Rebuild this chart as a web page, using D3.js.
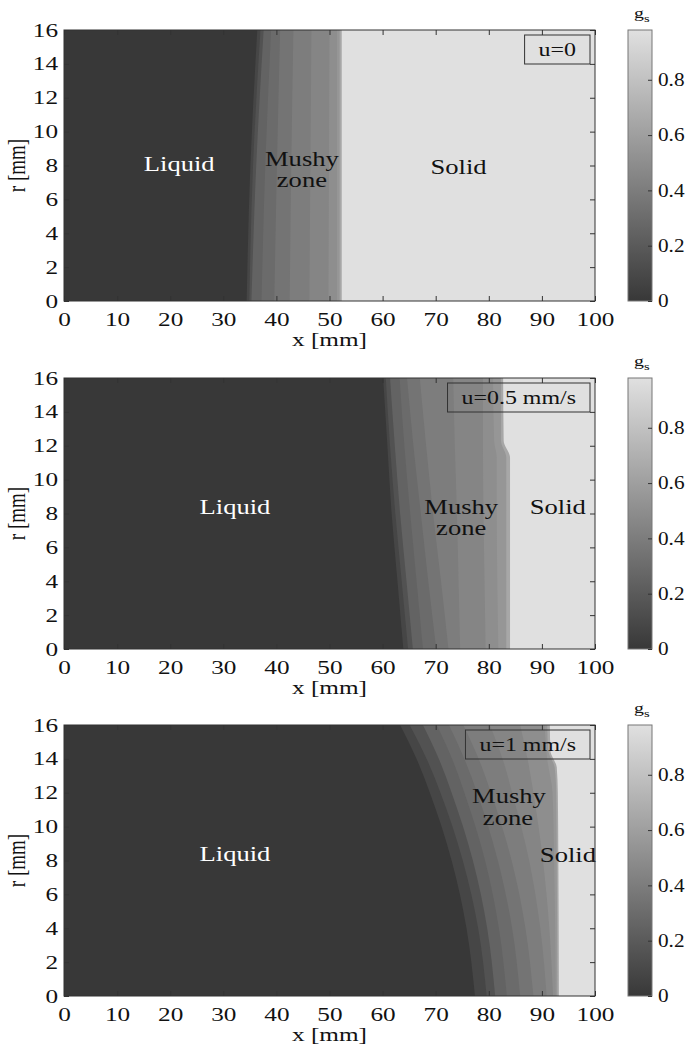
<!DOCTYPE html>
<html>
<head>
<meta charset="utf-8">
<script src="https://cdn.jsdelivr.net/npm/d3@7"></script>
<style>
  body { margin: 0; background: #fff; }
  svg text { font-family: "Liberation Serif", "Times New Roman", serif; fill: #111; }
</style>
</head>
<body>
<svg id="chart" width="688" height="1050"></svg>
<script>
// solid fraction levels; each edge list gives where the field reaches that level, as [r, x] in mm
const gsLevels = [0.08, 0.15, 0.25, 0.3, 0.35, 0.4, 0.45, 0.5, 0.55, 0.65, 0.98];
const xTicks = [0, 10, 20, 30, 40, 50, 60, 70, 80, 90, 100];
const rTicks = [0, 2, 4, 6, 8, 10, 12, 14, 16];
const cbTicks = [0, 0.2, 0.4, 0.6, 0.8];
const speeds = ["u=0", "u=0.5 mm/s", "u=1 mm/s"];

const edgesU0 = [
  [[0, 34.4], [8, 35.1], [16, 36.4]],
  [[0, 34.9], [8, 35.6], [16, 37.0]],
  [[0, 35.3], [8, 36.2], [16, 37.6]],
  [[0, 37.2], [8, 37.9], [16, 39.0]],
  [[0, 39.6], [8, 40.1], [16, 40.7]],
  [[0, 42.5], [8, 42.8], [16, 43.2]],
  [[0, 46.2], [8, 46.4], [16, 46.6]],
  [[0, 49.8], [8, 49.9], [16, 50.0]],
  [[0, 51.4], [16, 51.4]],
  [[0, 51.9], [16, 51.9]],
  [[0, 52.3], [16, 52.3]]
];

const edgesU05 = [
  [[0, 63.9], [4, 62.8], [8, 61.7], [12, 60.9], [16, 60.1]],
  [[0, 64.8], [4, 63.6], [8, 62.4], [12, 61.4], [16, 60.6]],
  [[0, 65.7], [4, 64.5], [8, 63.3], [12, 62.3], [16, 61.4]],
  [[0, 67.6], [4, 66.4], [8, 65.2], [12, 64.1], [16, 63.2]],
  [[0, 70.1], [4, 68.6], [8, 67.2], [12, 65.8], [16, 64.6]],
  [[0, 72.4], [4, 71.0], [8, 69.5], [12, 68.2], [16, 67.0]],
  [[0, 74.6], [4, 74.3], [8, 74.0], [12, 73.6], [16, 73.3]],
  [[0, 79.4], [4, 79.2], [8, 79.0], [12, 78.9], [16, 78.9]],
  [[0, 81.8], [4, 81.6], [8, 81.5], [11.3, 81.5], [12.3, 81.0], [16, 80.8]],
  [[0, 83.3], [8, 83.3], [11.3, 83.3], [12.3, 82.3], [16, 82.3]],
  [[0, 84.0], [8, 84.0], [11.3, 84.0], [12.3, 82.8], [16, 82.7]]
];

const edgesU1 = [
  [[0, 77.4], [4, 75.8], [8, 73.0], [12, 68.9], [14, 66.4], [16, 63.3]],
  [[0, 79.6], [4, 78.0], [8, 75.1], [12, 70.9], [14, 68.3], [16, 65.1]],
  [[0, 81.2], [4, 79.7], [8, 77.0], [12, 73.0], [14, 70.6], [16, 67.6]],
  [[0, 83.4], [4, 81.9], [8, 79.3], [12, 75.4], [14, 73.1], [16, 70.2]],
  [[0, 85.9], [4, 84.4], [8, 81.7], [12, 77.8], [14, 75.4], [16, 72.5]],
  [[0, 88.4], [4, 86.9], [8, 84.3], [12, 80.4], [14, 78.1], [16, 75.2]],
  [[0, 90.9], [4, 89.7], [8, 87.6], [12, 84.4], [14, 82.6], [16, 80.2]],
  [[0, 92.1], [4, 91.4], [8, 90.2], [12, 88.4], [14, 87.3], [16, 85.9]],
  [[0, 92.6], [4, 92.5], [8, 92.3], [12, 92.0], [14, 91.0], [16, 90.5]],
  [[0, 92.9], [8, 92.8], [12, 92.7], [13.5, 92.4], [14.5, 91.2], [16, 91.0]],
  [[0, 93.2], [8, 93.1], [12, 93.0], [13.5, 92.8], [14.5, 91.6], [16, 91.5]]
];

// region labels: text, x [mm], r [mm], colour
const notesU0 = [["Liquid", 21.7, 7.7, "#fff"], ["Mushy", 44.8, 8.0, "#111"], ["zone", 44.8, 6.75, "#111"], ["Solid", 74.3, 7.5, "#111"]];
const notesU05 = [["Liquid", 32.2, 8.0, "#fff"], ["Mushy", 74.8, 8.0, "#111"], ["zone", 74.8, 6.75, "#111"], ["Solid", 93.0, 8.0, "#111"]];
const notesU1 = [["Liquid", 32.2, 8.0, "#fff"], ["Mushy", 83.8, 11.4, "#111"], ["zone", 83.6, 10.1, "#111"], ["Solid", 94.9, 7.9, "#111"]];

const panels = [
  { edges: edgesU0, notes: notesU0, speed: speeds[0] },
  { edges: edgesU05, notes: notesU05, speed: speeds[1] },
  { edges: edgesU1, notes: notesU1, speed: speeds[2] }
];

// layout
const left = 64, right = 595, plotH = 271;
const tops = [30, 378, 725];
const cbX = 628, cbW = 24;
const SX = 1.33; // the source figure is stretched sideways
const SXcb = 1.18;

const color = d3.scaleLinear().domain([0, 0.98]).range(["#383838", "#e0e0e0"]);

const svg = d3.select("#chart");
const defs = svg.append("defs");

const grad = defs.append("linearGradient").attr("id", "cbGrad")
  .attr("x1", 0).attr("y1", 1).attr("x2", 0).attr("y2", 0);
grad.append("stop").attr("offset", 0).attr("stop-color", color(0));
grad.append("stop").attr("offset", 1).attr("stop-color", color(0.98));

function stretched(parent, txt, px, py, size, anchor) {
  return parent.append("text")
    .attr("transform", `translate(${px},${py}) scale(${SX},1)`)
    .attr("text-anchor", anchor || "middle")
    .attr("font-size", size)
    .text(txt);
}

function styleAxis(sel, size) {
  sel.select(".domain").remove();
  sel.selectAll("line").attr("stroke", "#333");
  sel.attr("font-size", size || 19);
}

panels.forEach((p, i) => {
  const top = tops[i];
  const x = d3.scaleLinear().domain([0, 100]).range([left, right]);
  const y = d3.scaleLinear().domain([0, 16]).range([top + plotH, top]);
  const g = svg.append("g");

  defs.append("clipPath").attr("id", "clip" + i)
    .append("rect").attr("x", left).attr("y", top).attr("width", right - left).attr("height", plotH);

  const field = g.append("g").attr("clip-path", `url(#clip${i})`);
  field.append("rect")
    .attr("x", left).attr("y", top).attr("width", right - left).attr("height", plotH)
    .attr("fill", color(0));

  const area = d3.area()
    .curve(d3.curveMonotoneY)
    .y(d => y(d[0]))
    .x0(d => x(d[1]))
    .x1(right + 2);

  gsLevels.forEach((lv, j) => {
    field.append("path")
      .datum(p.edges[j].slice().sort((a, b) => b[0] - a[0]))
      .attr("d", area)
      .attr("fill", color(lv));
  });

  // region labels
  p.notes.forEach(n => {
    stretched(g, n[0], x(n[1]), y(n[2]), 20).style("fill", n[3]);
  });

  // speed box
  const bt = stretched(g, p.speed, 0, top + 26, 18);
  const tw = bt.node().getComputedTextLength() * SX;
  const bw = tw + 28;
  const bx = right - 5 - bw;
  bt.attr("transform", `translate(${bx + bw / 2},${top + 26}) scale(${SX},1)`);
  g.append("rect")
    .attr("x", bx).attr("y", top + 5).attr("width", bw).attr("height", 29)
    .attr("fill", "none").attr("stroke", "#333").attr("stroke-width", 1);

  // axes, ticks inside
  const xb = g.append("g").attr("transform", `translate(0,${top + plotH})`)
    .call(d3.axisBottom(x).tickValues(xTicks).tickSize(-5).tickPadding(12));
  styleAxis(xb);
  xb.selectAll("text").attr("transform", `scale(${SX},1)`);

  const xt = g.append("g").attr("transform", `translate(0,${top})`)
    .call(d3.axisTop(x).tickValues(xTicks).tickSize(-5).tickFormat(""));
  styleAxis(xt);

  const yl = g.append("g").attr("transform", `translate(${left},0)`)
    .call(d3.axisLeft(y).tickValues(rTicks).tickSize(-5).tickPadding(6));
  styleAxis(yl);
  yl.selectAll("text").attr("x", -6 / SX).attr("transform", `scale(${SX},1)`);

  const yr = g.append("g").attr("transform", `translate(${right},0)`)
    .call(d3.axisRight(y).tickValues(rTicks).tickSize(-5).tickFormat(""));
  styleAxis(yr);

  g.append("rect")
    .attr("x", left).attr("y", top).attr("width", right - left).attr("height", plotH)
    .attr("fill", "none").attr("stroke", "#333").attr("stroke-width", 1);

  stretched(g, "x [mm]", (left + right) / 2, top + plotH + 45, 19);
  g.append("text")
    .attr("transform", `translate(25,${top + plotH / 2}) scale(${SX},1) rotate(-90)`)
    .attr("text-anchor", "middle")
    .attr("font-size", 19)
    .text("r [mm]");

  // colour bar
  const cScale = d3.scaleLinear().domain([0, 0.98]).range([top + plotH, top]);
  g.append("rect")
    .attr("x", cbX).attr("y", top).attr("width", cbW).attr("height", plotH)
    .attr("fill", "url(#cbGrad)").attr("stroke", "#777").attr("stroke-width", 1);
  const ca = g.append("g").attr("transform", `translate(${cbX + cbW},0)`)
    .call(d3.axisRight(cScale).tickValues(cbTicks).tickSize(-4).tickPadding(6)
      .tickFormat(d => d === 0 ? "0" : d3.format(".1f")(d)));
  styleAxis(ca, 18);
  ca.selectAll("text").attr("x", 6 / SXcb).attr("transform", `scale(${SXcb},1)`);

  const gl = g.append("text")
    .attr("transform", `translate(${cbX + 6},${top - 12}) scale(${SX},1)`)
    .attr("font-size", 15);
  gl.append("tspan").text("g");
  gl.append("tspan").attr("font-size", 11).attr("dy", 4).text("s");
});
</script>
</body>
</html>
